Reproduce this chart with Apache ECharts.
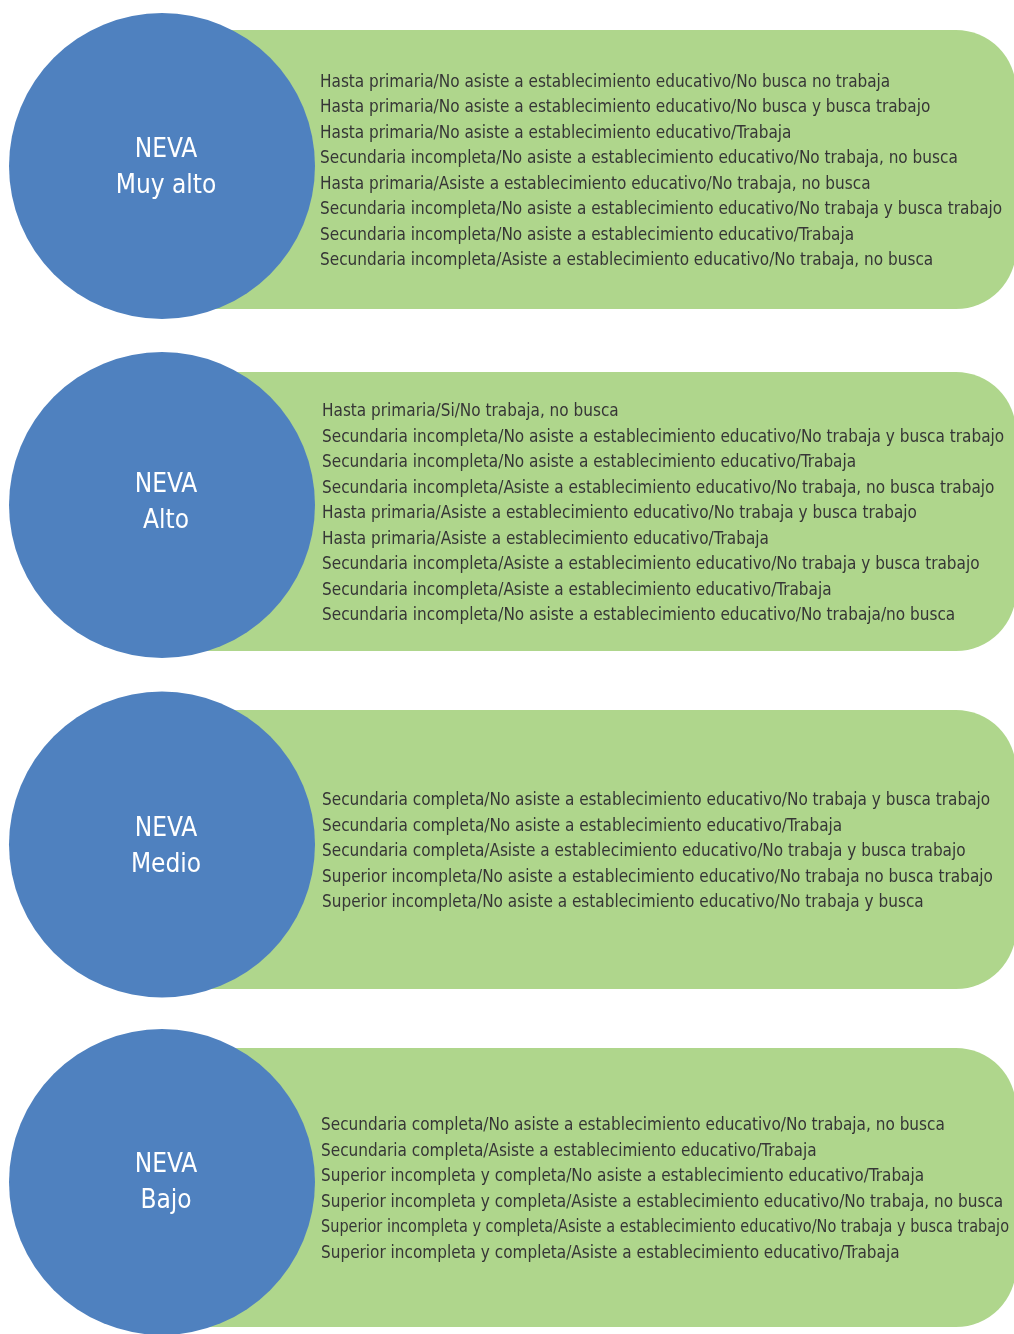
<!DOCTYPE html>
<html>
<head>
<meta charset="utf-8">
<script src="https://cdn.jsdelivr.net/npm/echarts@6/dist/echarts.min.js"></script>
<style>
	html, body { margin: 0; padding: 0; background: #fff; }
	#chart { width: 1014px; height: 1334px; }
</style>
</head>
<body>
<div id="chart"></div>
<script>
	// niveles NEVA
	var levels = ['Muy alto', 'Alto', 'Medio', 'Bajo'];

	var linesMuyAlto = [
		'Hasta primaria/No asiste a establecimiento educativo/No busca no trabaja',
		'Hasta primaria/No asiste a establecimiento educativo/No busca y busca trabajo',
		'Hasta primaria/No asiste a establecimiento educativo/Trabaja',
		'Secundaria incompleta/No asiste a establecimiento educativo/No trabaja, no busca',
		'Hasta primaria/Asiste a establecimiento educativo/No trabaja, no busca',
		'Secundaria incompleta/No asiste a establecimiento educativo/No trabaja y busca trabajo',
		'Secundaria incompleta/No asiste a establecimiento educativo/Trabaja',
		'Secundaria incompleta/Asiste a establecimiento educativo/No trabaja, no busca'
	];
	var linesAlto = [
		'Hasta primaria/Si/No trabaja, no busca',
		'Secundaria incompleta/No asiste a establecimiento educativo/No trabaja y busca trabajo',
		'Secundaria incompleta/No asiste a establecimiento educativo/Trabaja',
		'Secundaria incompleta/Asiste a establecimiento educativo/No trabaja, no busca trabajo',
		'Hasta primaria/Asiste a establecimiento educativo/No trabaja y busca trabajo',
		'Hasta primaria/Asiste a establecimiento educativo/Trabaja',
		'Secundaria incompleta/Asiste a establecimiento educativo/No trabaja y busca trabajo',
		'Secundaria incompleta/Asiste a establecimiento educativo/Trabaja',
		'Secundaria incompleta/No asiste a establecimiento educativo/No trabaja/no busca'
	];
	var linesMedio = [
		'Secundaria completa/No asiste a establecimiento educativo/No trabaja y busca trabajo',
		'Secundaria completa/No asiste a establecimiento educativo/Trabaja',
		'Secundaria completa/Asiste a establecimiento educativo/No trabaja y busca trabajo',
		'Superior incompleta/No asiste a establecimiento educativo/No trabaja no busca trabajo',
		'Superior incompleta/No asiste a establecimiento educativo/No trabaja y busca'
	];
	var linesBajo = [
		'Secundaria completa/No asiste a establecimiento educativo/No trabaja, no busca',
		'Secundaria completa/Asiste a establecimiento educativo/Trabaja',
		'Superior incompleta y completa/No asiste a establecimiento educativo/Trabaja',
		'Superior incompleta y completa/Asiste a establecimiento educativo/No trabaja, no busca',
		'Superior incompleta y completa/Asiste a establecimiento educativo/No trabaja y busca trabajo',
		'Superior incompleta y completa/Asiste a establecimiento educativo/Trabaja'
	];
	var groups = [linesMuyAlto, linesAlto, linesMedio, linesBajo];

	var blue = '#4F81BF';
	var green = '#AFD68C';
	var font = '"Liberation Sans Narrow", "DejaVu Sans Condensed", sans-serif';
	var lineFont = '18px ' + font;

	var boxTops = [30, 372, 710, 1048];
	var circleY = [166, 505, 844.5, 1182];
	var titleY = [166, 501, 844.5, 1181];
	var textX = [320, 322, 322, 321];
	var boxH = 279;
	var lineH = 25.5;
	var r = 153;
	var baseScale = 0.945;
	var textRight = 1009; // las lineas largas se comprimen para caber en la caja

	var ctx = document.createElement('canvas').getContext('2d');
	ctx.font = lineFont;

	var elements = [];
	groups.forEach(function (lines, i) {
		var top = boxTops[i];
		var mid = top + boxH / 2;
		var y0 = mid + 2 - lines.length * lineH / 2;
		// caja verde
		elements.push({
			type: 'rect',
			shape: { x: 200, y: top, width: 816, height: boxH, r: [0, 60, 60, 0] },
			style: { fill: green }
		});
		// texto de la caja
		lines.forEach(function (line, k) {
			var w = ctx.measureText(line).width;
			var s = Math.min(baseScale, (textRight - textX[i]) / w);
			elements.push({
				type: 'text',
				x: textX[i],
				y: y0 + k * lineH,
				scaleX: s,
				style: {
					text: line,
					font: lineFont,
					fill: '#363636',
					lineHeight: lineH,
					verticalAlign: 'top'
				}
			});
		});
		// circulo azul
		elements.push({
			type: 'circle',
			shape: { cx: 162, cy: circleY[i], r: r },
			style: { fill: blue }
		});
		elements.push({
			type: 'text',
			x: 166,
			y: titleY[i] + 2.5,
			style: {
				text: 'NEVA\n' + levels[i],
				font: '26px ' + font,
				fill: '#ffffff',
				lineHeight: 36,
				align: 'center',
				verticalAlign: 'middle'
			}
		});
	});

	var chart = echarts.init(document.getElementById('chart'));
	chart.setOption({
		animation: false,
		graphic: { elements: elements }
	});
</script>
</body>
</html>
